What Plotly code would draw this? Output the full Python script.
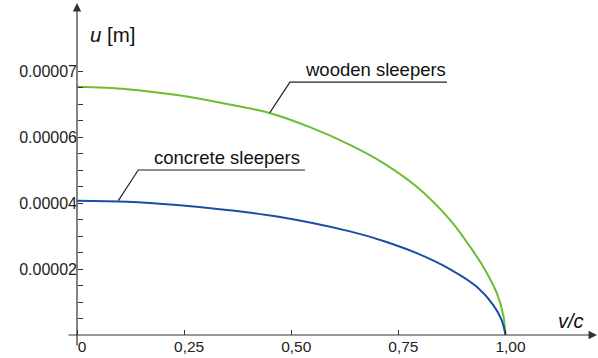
import plotly.graph_objects as go

# ---- data (u in metres, v/c dimensionless) ----
wood_v = [0, 0.117, 0.233, 0.350, 0.451, 0.545, 0.637, 0.715, 0.793, 0.871,
          0.917, 0.948, 0.980, 0.995, 1.0]
wood_u = [7.52e-5, 7.45e-5, 7.27e-5, 7.00e-5, 6.72e-5, 6.29e-5, 5.76e-5, 5.21e-5,
          4.49e-5, 3.48e-5, 2.68e-5, 2.07e-5, 1.26e-5, 0.58e-5, 0.0]
conc_v = [0, 0.117, 0.233, 0.350, 0.467, 0.637, 0.715, 0.793, 0.871, 0.933,
          0.972, 0.991, 1.0]
conc_u = [4.07e-5, 4.04e-5, 3.94e-5, 3.79e-5, 3.59e-5, 3.14e-5, 2.85e-5, 2.48e-5,
          1.99e-5, 1.46e-5, 0.90e-5, 0.45e-5, 0.0]

x_tickvals = [0, 0.25, 0.5, 0.75, 1.0]
x_ticktext = ["0", "0,25", "0,50", "0,75", "1,00"]
y_tickvals = [2e-5, 4e-5, 6e-5, 8e-5]
y_ticktext = ["0.00002", "0.00004", "0.00006", "0.00007"]
y_minorvals = [0.5e-5, 1e-5, 1.5e-5, 2.5e-5, 3e-5, 3.5e-5, 4.5e-5, 5e-5, 5.5e-5,
               6.5e-5, 7e-5, 7.5e-5]

GREEN = "#6cbd2f"
BLUE = "#1b4ea3"
AX = "#333333"
FONT = "Arial, Liberation Sans, sans-serif"

fig = go.Figure()
fig.add_trace(go.Scatter(x=wood_v, y=wood_u, mode="lines",
                         line=dict(color=GREEN, width=2, shape="spline", smoothing=1.0),
                         hoverinfo="skip"))
fig.add_trace(go.Scatter(x=conc_v, y=conc_u, mode="lines",
                         line=dict(color=BLUE, width=2, shape="spline", smoothing=1.0),
                         hoverinfo="skip"))

# leader lines for labels
fig.add_shape(type="path", xref="x", yref="y",
              path="M 0.450,6.74e-5 L 0.497,7.66e-5 L 0.8635,7.66e-5",
              line=dict(color="#222222", width=1.2))
fig.add_shape(type="path", xref="x", yref="y",
              path="M 0.0964,4.07e-5 L 0.143,5.0e-5 L 0.532,5.0e-5",
              line=dict(color="#222222", width=1.2))

ann = []
ann.append(dict(x=0.527, y=8.06e-5, xref="x", yref="y", text="wooden sleepers",
                showarrow=False, xanchor="left", yanchor="middle",
                font=dict(family=FONT, size=18.5, color="#111111")))
ann.append(dict(x=0.174, y=5.39e-5, xref="x", yref="y", text="concrete sleepers",
                showarrow=False, xanchor="left", yanchor="middle",
                font=dict(family=FONT, size=18.5, color="#111111")))
ann.append(dict(x=0.0245, y=9.12e-5, xref="x", yref="y", text="<i>u</i> [m]",
                showarrow=False, xanchor="left", yanchor="middle",
                font=dict(family=FONT, size=20.5, color="#111111")))
ann.append(dict(x=1.153, y=0.424e-5, xref="x", yref="y", text="<i>v/c</i>",
                showarrow=False, xanchor="center", yanchor="middle",
                font=dict(family=FONT, size=20, color="#111111")))
# axis arrows
ann.append(dict(x=1.2135, y=0, ax=-0.0233, ay=0, xref="x", yref="y", axref="x", ayref="y",
                text="", showarrow=True, arrowhead=2, arrowsize=1.4, arrowwidth=1.2,
                arrowcolor=AX, standoff=0, startstandoff=0))
ann.append(dict(x=0, y=10.06e-5, ax=0, ay=-0.364e-5, xref="x", yref="y", axref="x", ayref="y",
                text="", showarrow=True, arrowhead=2, arrowsize=1.4, arrowwidth=1.2,
                arrowcolor=AX, standoff=0, startstandoff=0))

L, R, T, B = 60, 598, 0, 350
fig.update_layout(
    width=598, height=358,
    margin=dict(l=L, r=598 - R, t=T, b=358 - B, pad=0, autoexpand=False),
    paper_bgcolor="white", plot_bgcolor="white",
    showlegend=False,
    annotations=ann,
    xaxis=dict(range=[(L - 77) / 428.5, (R - 77) / 428.5], showgrid=False, zeroline=False,
               showline=False, anchor="free", position=(B - 335) / (B - T), automargin=False,
               tickmode="array", tickvals=x_tickvals, ticktext=x_ticktext,
               ticks="inside", ticklen=5, tickwidth=1, tickcolor=AX,
               ticklabelshift=5,
               tickfont=dict(family=FONT, size=15.5, color="#222222")),
    yaxis=dict(range=[(335 - B) / 33 * 1e-5, (335 - T) / 33 * 1e-5], showgrid=False,
               zeroline=False, showline=False, anchor="free", position=(77 - L) / (R - L),
               automargin=False,
               tickmode="array", tickvals=y_tickvals, ticktext=y_ticktext,
               ticks="inside", ticklen=5, tickwidth=1, tickcolor=AX,
               minor=dict(tickmode="array", tickvals=y_minorvals, ticks="inside",
                          ticklen=5, tickwidth=1, tickcolor=AX),
               tickfont=dict(family=FONT, size=16, color="#222222")),
)

fig.write_html("out.html", config={"displayModeBar": False},
               post_script="document.body.style.margin='0';document.body.style.overflow='hidden';")
